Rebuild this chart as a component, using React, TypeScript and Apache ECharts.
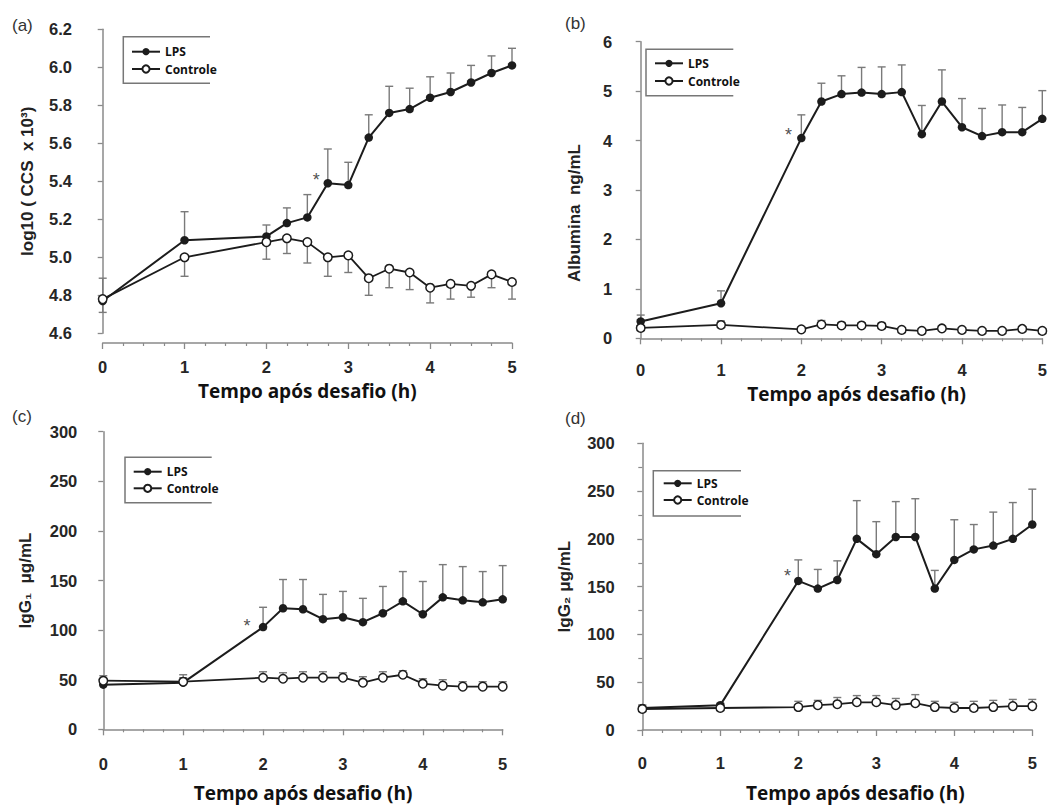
import React, { useEffect, useRef } from "react";
import * as echarts from "echarts";

// Shared time points (h)
const times = [0, 1, 2, 2.25, 2.5, 2.75, 3, 3.25, 3.5, 3.75, 4, 4.25, 4.5, 4.75, 5];
const xTicks = [0, 1, 2, 3, 4, 5];

// (a) log10 (CCS x 10^3)
const lpsA = [4.77, 5.09, 5.11, 5.18, 5.21, 5.39, 5.38, 5.63, 5.76, 5.78, 5.84, 5.87, 5.92, 5.97, 6.01];
const lpsUpA = [4.89, 5.24, 5.17, 5.26, 5.33, 5.57, 5.5, 5.75, 5.9, 5.89, 5.95, 5.97, 6.01, 6.06, 6.1];
const ctlA = [4.78, 5.0, 5.08, 5.1, 5.08, 5.0, 5.01, 4.89, 4.94, 4.92, 4.84, 4.86, 4.85, 4.91, 4.87];
const ctlLoA = [4.71, 4.9, 4.99, 5.02, 4.97, 4.9, 4.92, 4.8, 4.84, 4.83, 4.76, 4.78, 4.79, 4.84, 4.78];
const starA = [[2.61, 5.43]];

// (b) Albumina ng/mL
const lpsB = [0.34, 0.71, 4.05, 4.79, 4.94, 4.97, 4.94, 4.98, 4.13, 4.79, 4.27, 4.09, 4.17, 4.17, 4.44];
const lpsUpB = [0.47, 0.96, 4.52, 5.16, 5.31, 5.48, 5.49, 5.53, 4.71, 5.43, 4.85, 4.65, 4.72, 4.67, 5.01];
const ctlB = [0.21, 0.27, 0.18, 0.28, 0.26, 0.26, 0.25, 0.17, 0.15, 0.2, 0.17, 0.15, 0.15, 0.19, 0.15];
const ctlUpB = [0.25, 0.35, 0.21, 0.36, 0.32, 0.31, 0.31, 0.2, 0.18, 0.23, 0.2, 0.18, 0.18, 0.22, 0.18];
const starB = [[1.84, 4.19]];

// (c) IgG1 µg/mL
const lpsC = [45, 47, 103, 122, 121, 111, 113, 108, 117, 129, 116, 133, 130, 128, 131];
const lpsUpC = [50, 52, 123, 151, 151, 136, 139, 132, 144, 159, 149, 166, 164, 159, 165];
const ctlC = [49, 48, 52, 51, 52, 52, 52, 47, 52, 55, 46, 44, 43, 43, 43];
const ctlUpC = [54, 55, 58, 57, 58, 58, 57, 53, 58, 59, 51, 50, 48, 48, 48];
const starC = [[1.8, 108]];

// (d) IgG2 µg/mL
const lpsD = [23, 26, 156, 148, 157, 200, 184, 202, 202, 148, 178, 189, 193, 200, 215];
const lpsUpD = [26, 28, 178, 168, 177, 240, 218, 239, 242, 167, 220, 215, 228, 238, 252];
const ctlD = [22, 23, 24, 26, 27, 29, 29, 26, 28, 24, 23, 23, 24, 25, 25];
const ctlUpD = [26, 27, 30, 31, 34, 36, 36, 33, 37, 30, 29, 30, 31, 32, 32];
const starD = [[1.86, 165]];

const seriesNames = ["LPS", "Controle"];
const xTitle = "Tempo após desafio (h)";

const INK = "#1c1c1c";
const AXIS = "#8a8a8a";
const ERR = "#7a7a7a";
const TICK_TXT = "#262626";

type Panel = {
  tag: string;
  tagPos: [number, number];
  grid: { left: number; top: number; width: number; height: number };
  yOff: number;
  xOff: number;
  yMin: number;
  yMax: number;
  yInt: number;
  yDec: number;
  yMinor: number;
  yLabelMargin: number;
  yName: string;
  yNameGap: number;
  yNamePad: number[];
  xNameGap: number;
  xNamePad: number[];
  lps: number[];
  lpsErr: number[];
  ctl: number[];
  ctlErr: number[];
  star: number[][];
  legend: { left: number; top: number; gap: number };
  box: number[][];
};

const panels: Panel[] = [
  {
    tag: "(a)", tagPos: [12, 25],
    grid: { left: 102.7, top: 29.3, width: 409.3, height: 304 },
    yOff: 14.7, xOff: 9.7, yMin: 4.6, yMax: 6.2, yInt: 0.2, yDec: 1, yMinor: 0, yLabelMargin: 16,
    yName: "log10 ( CCS  x 10³)", yNameGap: 52, yNamePad: [0, 0, 0, 0],
    xNameGap: 37, xNamePad: [0, 0, 0, 0],
    lps: lpsA, lpsErr: lpsUpA, ctl: ctlA, ctlErr: ctlLoA, star: starA,
    legend: { left: 131, top: 44.7, gap: 3.3 },
    box: [[210, 36.7], [123.3, 36.7], [123.3, 83.3], [210, 83.3]],
  },
  {
    tag: "(b)", tagPos: [565, 23],
    grid: { left: 640.7, top: 41.7, width: 401.6, height: 296.6 },
    yOff: 16.4, xOff: 8.4, yMin: 0, yMax: 6, yInt: 1, yDec: 0, yMinor: 0, yLabelMargin: 12,
    yName: "Albumina  ng/mL", yNameGap: 41, yNamePad: [0, 46, 0, 0],
    xNameGap: 37, xNamePad: [0, 0, 0, 30],
    lps: lpsB, lpsErr: lpsUpB, ctl: ctlB, ctlErr: ctlUpB, star: starB,
    legend: { left: 654, top: 56.3, gap: 3.7 },
    box: [[733.3, 49.3], [646, 49.3], [646, 95.7], [733.3, 95.7]],
  },
  {
    tag: "(c)", tagPos: [12, 416],
    grid: { left: 103.3, top: 431.7, width: 399.4, height: 297.6 },
    yOff: 13.3, xOff: 10.7, yMin: 0, yMax: 300, yInt: 50, yDec: 0, yMinor: 0, yLabelMargin: 12.7,
    yName: "IgG₁  μg/mL", yNameGap: 56, yNamePad: [0, 0, 0, 0],
    xNameGap: 42, xNamePad: [0, 0, 0, 0],
    lps: lpsC, lpsErr: lpsUpC, ctl: ctlC, ctlErr: ctlUpC, star: starC,
    legend: { left: 132.7, top: 464.7, gap: 2.6 },
    box: [[211.7, 457.3], [125, 457.3], [125, 502.7], [211.7, 502.7]],
  },
  {
    tag: "(d)", tagPos: [565, 418],
    grid: { left: 642.3, top: 443.3, width: 390, height: 286.7 },
    yOff: 10.6, xOff: 9.3, yMin: 0, yMax: 300, yInt: 50, yDec: 0, yMinor: 2, yLabelMargin: 17,
    yName: "IgG₂ μg/mL", yNameGap: 59, yNamePad: [0, 0, 0, 0],
    xNameGap: 43, xNamePad: [0, 0, 0, 36],
    lps: lpsD, lpsErr: lpsUpD, ctl: ctlD, ctlErr: ctlUpD, star: starD,
    legend: { left: 662.7, top: 476.3, gap: 2.7 },
    box: [[741, 470.7], [653.3, 470.7], [653.3, 516], [741, 516]],
  },
];

function errorSeries(gi: number, vals: number[], ends: number[]) {
  return {
    type: "custom",
    xAxisIndex: gi,
    yAxisIndex: gi,
    z: 1,
    silent: true,
    clip: false,
    data: times.map((t, i) => [t, vals[i], ends[i]]),
    encode: { x: 0, y: [1, 2] },
    renderItem: (_params: any, api: any) => {
      const x = api.value(0);
      const y = api.value(1);
      const e = api.value(2);
      const p0 = api.coord([x, y]);
      const p1 = api.coord([x, e]);
      const st = { stroke: ERR, lineWidth: 1.4 };
      return {
        type: "group",
        children: [
          { type: "line", shape: { x1: p0[0], y1: p0[1], x2: p1[0], y2: p1[1] }, style: st },
          { type: "line", shape: { x1: p1[0] - 4, y1: p1[1], x2: p1[0] + 4, y2: p1[1] }, style: st },
        ],
      };
    },
  };
}

function buildOption() {
  const grid: any[] = [];
  const xAxis: any[] = [];
  const yAxis: any[] = [];
  const series: any[] = [];
  const legend: any[] = [];
  const graphic: any[] = [];

  panels.forEach((p, gi) => {
    grid.push({ ...p.grid, containLabel: false });
    xAxis.push({
      type: "value",
      gridIndex: gi,
      min: xTicks[0],
      max: xTicks[xTicks.length - 1],
      interval: 1,
      offset: p.xOff,
      axisLine: { show: true, lineStyle: { color: AXIS, width: 1.5 } },
      axisTick: { show: true, length: 6, lineStyle: { color: AXIS, width: 1.3 } },
      minorTick: { show: true, splitNumber: 4, length: 3, lineStyle: { color: AXIS, width: 1.2 } },
      splitLine: { show: false },
      minorSplitLine: { show: false },
      axisLabel: {
        margin: 15,
        fontFamily: "Liberation Sans",
        fontWeight: "bold",
        fontSize: 16.5,
        color: TICK_TXT,
      },
      name: xTitle,
      nameLocation: "middle",
      nameGap: p.xNameGap,
      nameTextStyle: {
        fontFamily: "Open Sans",
        fontWeight: "bold",
        fontSize: 19,
        lineHeight: 21,
        color: "#111",
        padding: p.xNamePad,
      },
    });
    yAxis.push({
      type: "value",
      gridIndex: gi,
      min: p.yMin,
      max: p.yMax,
      interval: p.yInt,
      offset: p.yOff,
      axisLine: { show: true, lineStyle: { color: AXIS, width: 1.5 } },
      axisTick: { show: true, length: 5, lineStyle: { color: AXIS, width: 1.3 } },
      minorTick: {
        show: p.yMinor > 0,
        splitNumber: p.yMinor || 5,
        length: 4,
        lineStyle: { color: AXIS, width: 1.2 },
      },
      splitLine: { show: false },
      minorSplitLine: { show: false },
      axisLabel: {
        margin: p.yLabelMargin,
        fontFamily: "Liberation Sans",
        fontWeight: "bold",
        fontSize: 16.5,
        color: TICK_TXT,
        formatter: (v: number) => v.toFixed(p.yDec),
      },
      name: p.yName,
      nameLocation: "middle",
      nameGap: p.yNameGap,
      nameRotate: 90,
      nameTextStyle: {
        fontFamily: "Liberation Sans",
        fontWeight: "bold",
        fontSize: 17,
        color: "#222",
        padding: p.yNamePad,
      },
    });

    series.push(errorSeries(gi, p.lps, p.lpsErr));
    series.push(errorSeries(gi, p.ctl, p.ctlErr));
    series.push({
      type: "line",
      name: seriesNames[0],
      xAxisIndex: gi,
      yAxisIndex: gi,
      data: times.map((t, i) => [t, p.lps[i]]),
      symbol: "circle",
      symbolSize: 8.5,
      z: 3,
      clip: false,
      lineStyle: { color: INK, width: 2 },
      itemStyle: { color: INK },
    });
    series.push({
      type: "line",
      name: seriesNames[1],
      xAxisIndex: gi,
      yAxisIndex: gi,
      data: times.map((t, i) => [t, p.ctl[i]]),
      symbol: "circle",
      symbolSize: 8.5,
      z: 3,
      clip: false,
      lineStyle: { color: INK, width: 1.8 },
      itemStyle: { color: "#ffffff", borderColor: INK, borderWidth: 1.5 },
    });
    series.push({
      type: "scatter",
      xAxisIndex: gi,
      yAxisIndex: gi,
      data: p.star,
      symbol: "circle",
      symbolSize: 1,
      silent: true,
      z: 4,
      itemStyle: { color: "rgba(0,0,0,0)" },
      label: {
        show: true,
        position: "inside",
        formatter: "*",
        fontFamily: "Liberation Sans",
        fontSize: 18,
        color: "#222",
        offset: [0, 4],
      },
    });

    legend.push({
      data: seriesNames,
      orient: "vertical",
      left: p.legend.left,
      top: p.legend.top,
      padding: 0,
      itemGap: p.legend.gap,
      itemWidth: 28,
      itemHeight: 9,
      selectedMode: false,
      textStyle: {
        fontFamily: "Open Sans",
        fontWeight: "bold",
        fontSize: 12,
        color: "#111",
        lineHeight: 14,
      },
    });

    graphic.push({
      type: "polyline",
      shape: { points: p.box },
      style: { stroke: "#777", lineWidth: 1.5, fill: "none" },
      silent: true,
    });
    graphic.push({
      type: "text",
      x: p.tagPos[0],
      y: p.tagPos[1],
      style: {
        text: p.tag,
        fontFamily: "Liberation Sans",
        fontSize: 17,
        fill: "#333",
        verticalAlign: "middle",
        align: "left",
      },
      silent: true,
    });
  });

  return {
    animation: false,
    backgroundColor: "#ffffff",
    grid,
    xAxis,
    yAxis,
    series,
    legend,
    graphic,
  };
}

export default function App() {
  const ref = useRef<HTMLDivElement>(null);
  useEffect(() => {
    if (!ref.current) return;
    const chart = echarts.init(ref.current, undefined, { renderer: "svg" });
    chart.setOption(buildOption() as any);
    return () => chart.dispose();
  }, []);
  return (
    <div
      ref={ref}
      style={{ position: "fixed", left: 0, top: 0, width: 1055, height: 807, background: "#fff" }}
    />
  );
}
